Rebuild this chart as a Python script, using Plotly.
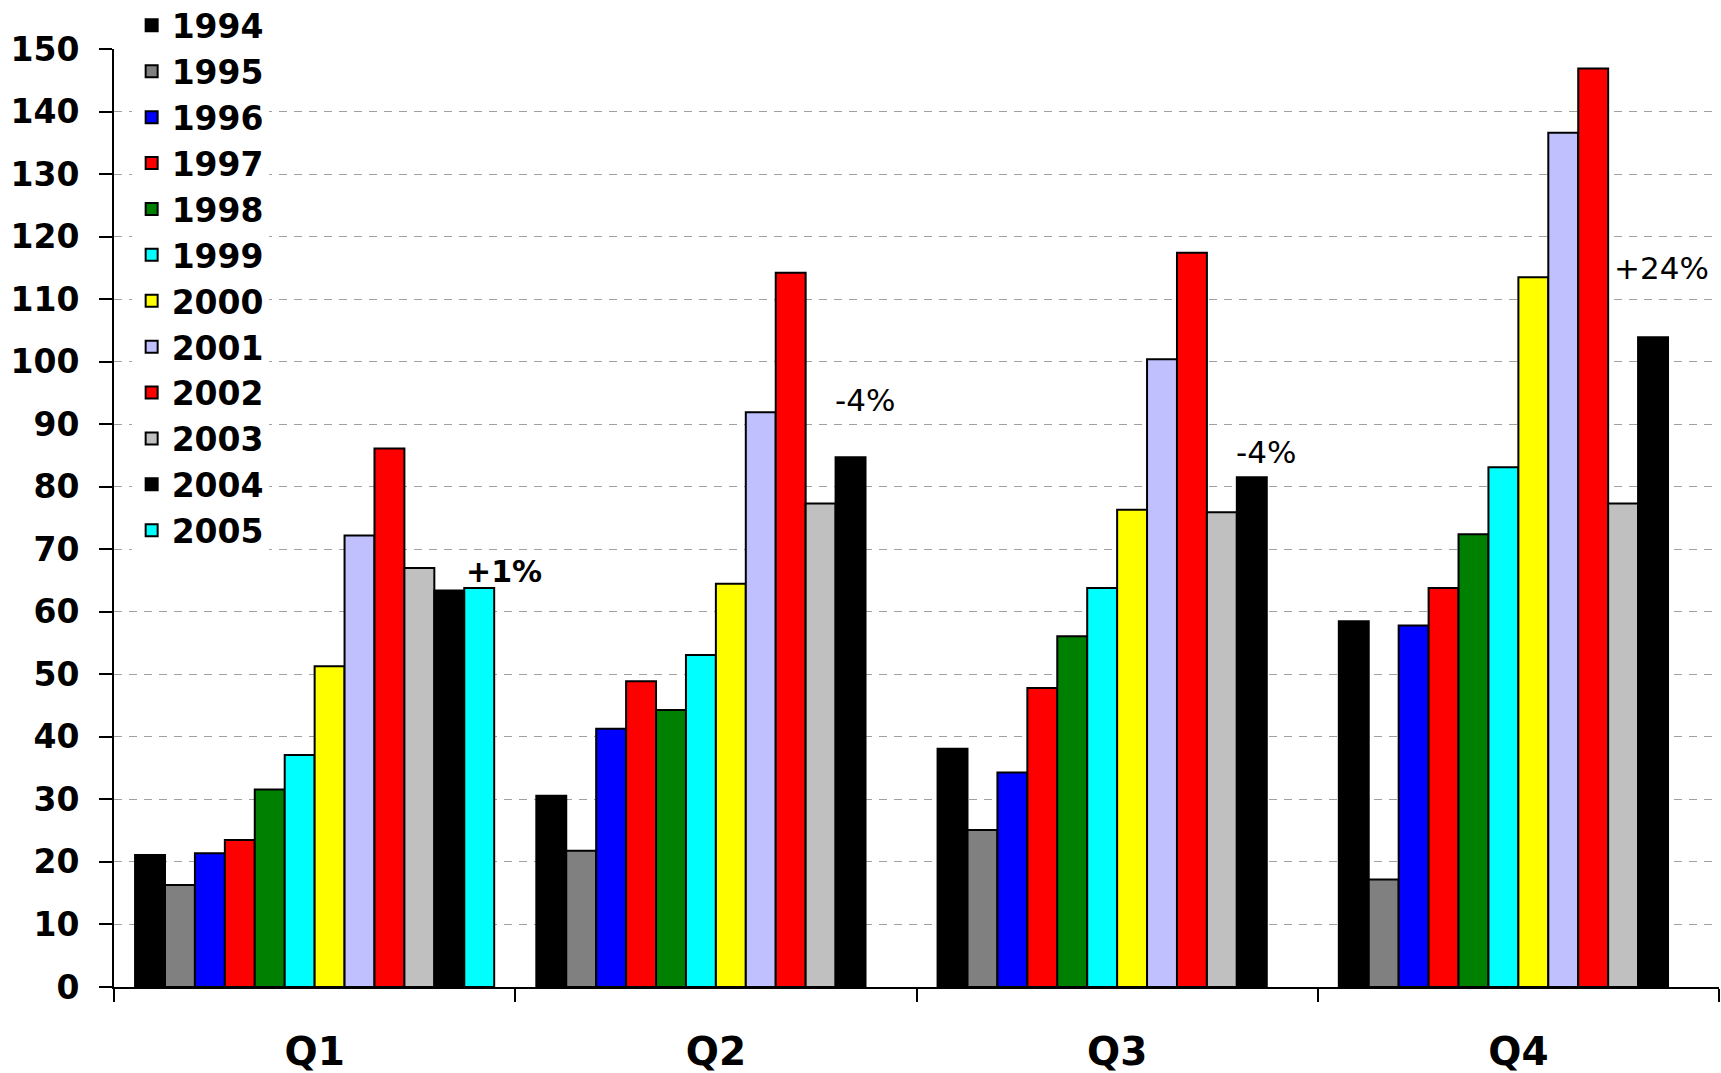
import plotly.graph_objects as go

quarters = ["Q1", "Q2", "Q3", "Q4"]
years = ["1994", "1995", "1996", "1997", "1998", "1999", "2000",
         "2001", "2002", "2003", "2004", "2005"]

v1994 = [21.1, 30.6, 38.1, 58.5]
v1995 = [16.3, 21.8, 25.1, 17.2]
v1996 = [21.4, 41.3, 34.3, 57.8]
v1997 = [23.5, 48.9, 47.8, 63.8]
v1998 = [31.6, 44.3, 56.1, 72.4]
v1999 = [37.1, 53.1, 63.8, 83.1]
v2000 = [51.3, 64.5, 76.3, 113.5]
v2001 = [72.2, 91.9, 100.4, 136.6]
v2002 = [86.1, 114.2, 117.4, 146.9]
v2003 = [67.0, 77.3, 75.9, 77.3]
v2004 = [63.4, 84.7, 81.5, 103.9]
v2005 = [63.8, None, None, None]

series = [v1994, v1995, v1996, v1997, v1998, v1999, v2000,
          v2001, v2002, v2003, v2004, v2005]
colors = ["#000000", "#808080", "#0000FF", "#FF0000", "#008000", "#00FFFF",
          "#FFFF00", "#C0C0FF", "#FF0000", "#C0C0C0", "#000000", "#00FFFF"]

ann_text = ["+1%", "-4%", "-4%", "+24%"]
ann_x = [0.472, 1.372, 2.372, 3.357]
ann_y = [66.4, 93.8, 85.6, 114.9]
ann_bold = [True, False, False, False]

FONT = "DejaVu Sans"

fig = go.Figure()
for yr, vals, col in zip(years, series, colors):
    fig.add_trace(go.Bar(
        name=yr, x=quarters, y=vals,
        marker=dict(color=col, line=dict(color="#000000", width=2)),
    ))

for t, x, y, b in zip(ann_text, ann_x, ann_y, ann_bold):
    fig.add_annotation(
        x=x, y=y, xref="x", yref="y", text=(f"<b>{t}</b>" if b else t),
        showarrow=False,
        font=dict(family=FONT, size=30 if b else 31, color="#000000"),
    )

fig.update_layout(
    width=1721, height=1073,
    margin=dict(l=114, r=2, t=49, b=86, autoexpand=False),
    paper_bgcolor="white", plot_bgcolor="white",
    barmode="group", bargap=0.105, bargroupgap=0,
    font=dict(family=FONT, color="#000000"),
    showlegend=True,
    legend=dict(
        x=0.011, y=1.055, xanchor="left", yanchor="top",
        bgcolor="white", borderwidth=0, maxheight=700,
        font=dict(family=FONT, size=33, color="#000000", weight="bold"),
        traceorder="normal",
    ),
)

fig.update_xaxes(
    type="category", tickson="boundaries", automargin=False,
    ticks="outside", ticklen=13, tickwidth=2, tickcolor="#000000",
    showline=True, linecolor="#000000", linewidth=2,
    showgrid=False,
    tickfont=dict(family=FONT, size=39, color="#000000", weight="bold"),
    ticklabelstandoff=29,
)
fig.update_yaxes(
    range=[0, 150], tickvals=list(range(0, 151, 10)), automargin=False,
    ticks="outside", ticklen=13, tickwidth=2, tickcolor="#000000",
    showline=True, linecolor="#000000", linewidth=2,
    showgrid=True, gridcolor="#A0A0A0", gridwidth=1, griddash="8px,7px",
    zeroline=False,
    tickfont=dict(family=FONT, size=33, color="#000000", weight="bold"),
    ticklabelstandoff=13,
)

fig.write_html("out.html")
